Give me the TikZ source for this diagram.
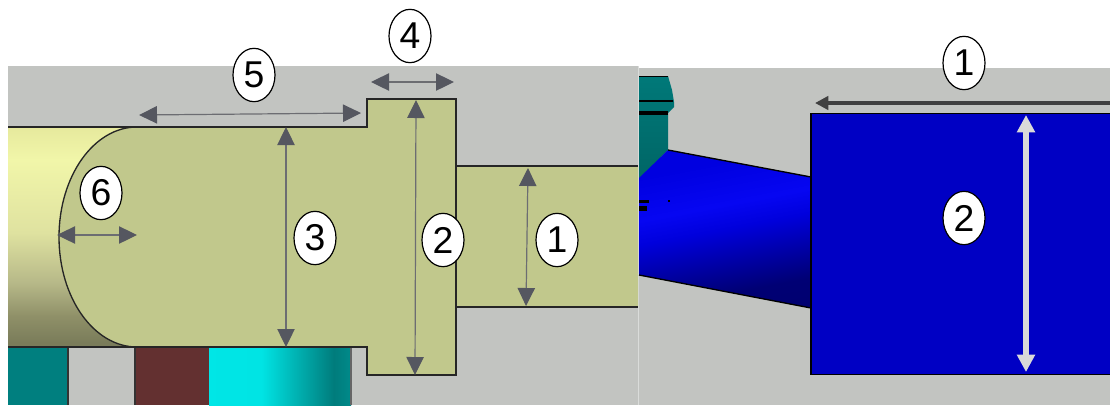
\documentclass[tikz,border=0pt]{standalone}
\usepackage{fontspec}
\setmainfont{Liberation Sans}
\usetikzlibrary{arrows.meta,shapes.geometric}

\definecolor{panelgray}{HTML}{C2C4C1}
\definecolor{olive}{HTML}{C1C88C}
\definecolor{dimgray}{HTML}{555760}
\definecolor{dimstem}{HTML}{6C6D72}
\definecolor{boxblue}{HTML}{0000C4}
\definecolor{brownred}{HTML}{633030}
\definecolor{tealpart}{HTML}{007F7F}
\definecolor{yA}{HTML}{7A7C5A}
\definecolor{yB}{HTML}{8F9068}
\definecolor{yC}{HTML}{B6B888}
\definecolor{yD}{HTML}{DFE2A0}
\definecolor{yE}{HTML}{F1F6A9}
\definecolor{yF}{HTML}{E6E99D}
\definecolor{bA}{HTML}{000066}
\definecolor{bB}{HTML}{000074}
\definecolor{bC}{HTML}{0000A8}
\definecolor{bD}{HTML}{0000DC}
\definecolor{bE}{HTML}{0606F2}
\definecolor{bF}{HTML}{0000E0}
\definecolor{cA}{HTML}{00E8E8}
\definecolor{cB}{HTML}{00E4E4}
\definecolor{cC}{HTML}{007C7C}
\definecolor{cD}{HTML}{008A8A}

\pgfdeclareverticalshading{pipeyellow}{100bp}{
  color(0bp)=(yA); color(26bp)=(yA); color(32bp)=(yB); color(39.5bp)=(yC);
  color(51bp)=(yD); color(67.5bp)=(yE); color(75bp)=(yF); color(100bp)=(yF)}
\pgfdeclareverticalshading{tubeblue}{100bp}{
  color(0bp)=(bA); color(30bp)=(bB); color(40bp)=(bC);
  color(50bp)=(bD); color(57.5bp)=(bE); color(71bp)=(bF); color(100bp)=(bF)}
\pgfdeclarehorizontalshading{cyanpart}{100bp}{
  color(0bp)=(cA); color(43.5bp)=(cB); color(69bp)=(cC); color(75bp)=(cD); color(100bp)=(cD)}

\begin{document}
\begin{tikzpicture}[
    x=0.75pt, y=-0.75pt,
    outline/.style={draw=black!85, line width=1.3pt},
    dimline/.style={draw=dimstem, line width=0.9pt,
      {Triangle[width=13pt,length=13.5pt,color=dimgray]}-{Triangle[width=13pt,length=13.5pt,color=dimgray]}},
    number/.style={ellipse, draw=black, line width=0.9pt, fill=white, inner sep=0pt,
      minimum width=31.5pt, minimum height=40pt, font=\fontsize{28}{30}\selectfont}
]
\useasboundingbox (0,0) rectangle (1110,405);

% Background panels
\fill[panelgray] (8,66) rectangle (638,405);
\fill[panelgray] (639,68) rectangle (1110,405);
\fill[panelgray!60!white] (638,66) rectangle (639,405);

% Parts below the pipe
\fill[tealpart] (8,347) rectangle (68,405);
\fill[brownred] (135,347) rectangle (209,405);
\shade[shading=cyanpart] (209,347) rectangle (351,405);
\draw[black!80, line width=0.8pt] (68,347) -- (68,405);
\draw[black!80, line width=0.8pt] (135,347) -- (135,405);
\draw[black!60, line width=0.8pt] (351,347) -- (351,405);

% Pipe and rounded plug
\shade[shading=pipeyellow] (8,127) rectangle (138,347);
\fill[olive] (137,127) -- (367,127) -- (367,99) -- (456,99) -- (456,166) -- (638,166)
  -- (638,307) -- (456,307) -- (456,375) -- (367,375) -- (367,347) -- (137,347)
  .. controls (94,347) and (59,298) .. (59,237) .. controls (59,176) and (94,127) .. (137,127);
\draw[outline] (8,127) -- (367,127) -- (367,99) -- (456,99) -- (456,375) -- (367,375)
  -- (367,347) -- (8,347);
\draw[outline] (456,166) -- (638,166);
\draw[outline] (456,307) -- (638,307);
\draw[outline, line width=1pt] (137,347) .. controls (94,347) and (59,298) .. (59,237)
  .. controls (59,176) and (94,127) .. (137,127);

% Teal fitting, right panel
\shade[top color=tealpart!105!white, bottom color=tealpart!80!black]
  (639,76) -- (668,76) -- (672,90) -- (674,102) -- (674,107) -- (668,113)
  -- (668,150) -- (639,180) -- cycle;
\draw[black, line width=1.2pt] (639,76.5) -- (668,76.5);
\draw[black, line width=1.5pt] (639,100.5) -- (673,100.5);
\draw[black, line width=2.4pt] (639,113) -- (668,113);

% Slanted blue tube
\begin{scope}
\clip (639,178) -- (668,150) -- (811,177) -- (811,308) -- (639,275) -- cycle;
\shade[shading=tubeblue, shading angle=10.8] (639,150) rectangle (811,308);
\end{scope}
\draw[black, line width=1pt] (668,150) -- (811,177);
\draw[black, line width=1pt] (639,275) -- (811,308);
\fill[black] (639,200) rectangle (649,203);
\fill[black] (639,206) rectangle (647,211);
\fill[black] (668,200) rectangle (670,202);

% Blue box
\fill[boxblue] (811,113) rectangle (1110,375);
\draw[black, line width=1.4pt] (1110,113.5) -- (811,113.5) -- (811,374.5) -- (1110,374.5);

% Dimension points
\coordinate (fiveL) at (139,115);
\coordinate (fiveR) at (361,113);
\coordinate (fourL) at (371,82);
\coordinate (fourR) at (454,82);
\coordinate (sixL) at (57,235);
\coordinate (sixR) at (137,235);
\coordinate (threeT) at (286,127);
\coordinate (threeB) at (286,347);
\coordinate (twoT) at (416,100);
\coordinate (twoB) at (415,375);
\coordinate (oneT) at (528,168);
\coordinate (oneB) at (526,306);
\coordinate (lengthR) at (1110,103);
\coordinate (lengthL) at (815,103);
\coordinate (heightT) at (1026,115);
\coordinate (heightB) at (1026,372);

% Dimension arrows
\draw[dimline] (fiveL) -- (fiveR);
\draw[dimline] (fourL) -- (fourR);
\draw[dimline] (sixL) -- (sixR);
\draw[dimline] (threeT) -- (threeB);
\draw[dimline] (twoT) -- (twoB);
\draw[dimline] (oneT) -- (oneB);
\draw[draw=black!75, line width=3.2pt, -{Triangle[width=10pt,length=10pt]}] (lengthR) -- (lengthL);
\draw[draw=black!15, line width=3.8pt, {Triangle[width=13pt,length=13pt]}-{Triangle[width=13pt,length=13pt]}] (heightT) -- (heightB);

% Numbers
\node[number] (nfive) at (254,75) {5};
\node[number] (nfour) at (410,36) {4};
\node[number] (nsix) at (101,193) {6};
\node[number] (nthree) at (315,238) {3};
\node[number] (ntwo) at (443,240) {2};
\node[number] (none) at (557,240) {1};
\node[number] (nlength) at (964,63) {1};
\node[number] (nheight) at (964,218) {2};

\end{tikzpicture}
\end{document}
